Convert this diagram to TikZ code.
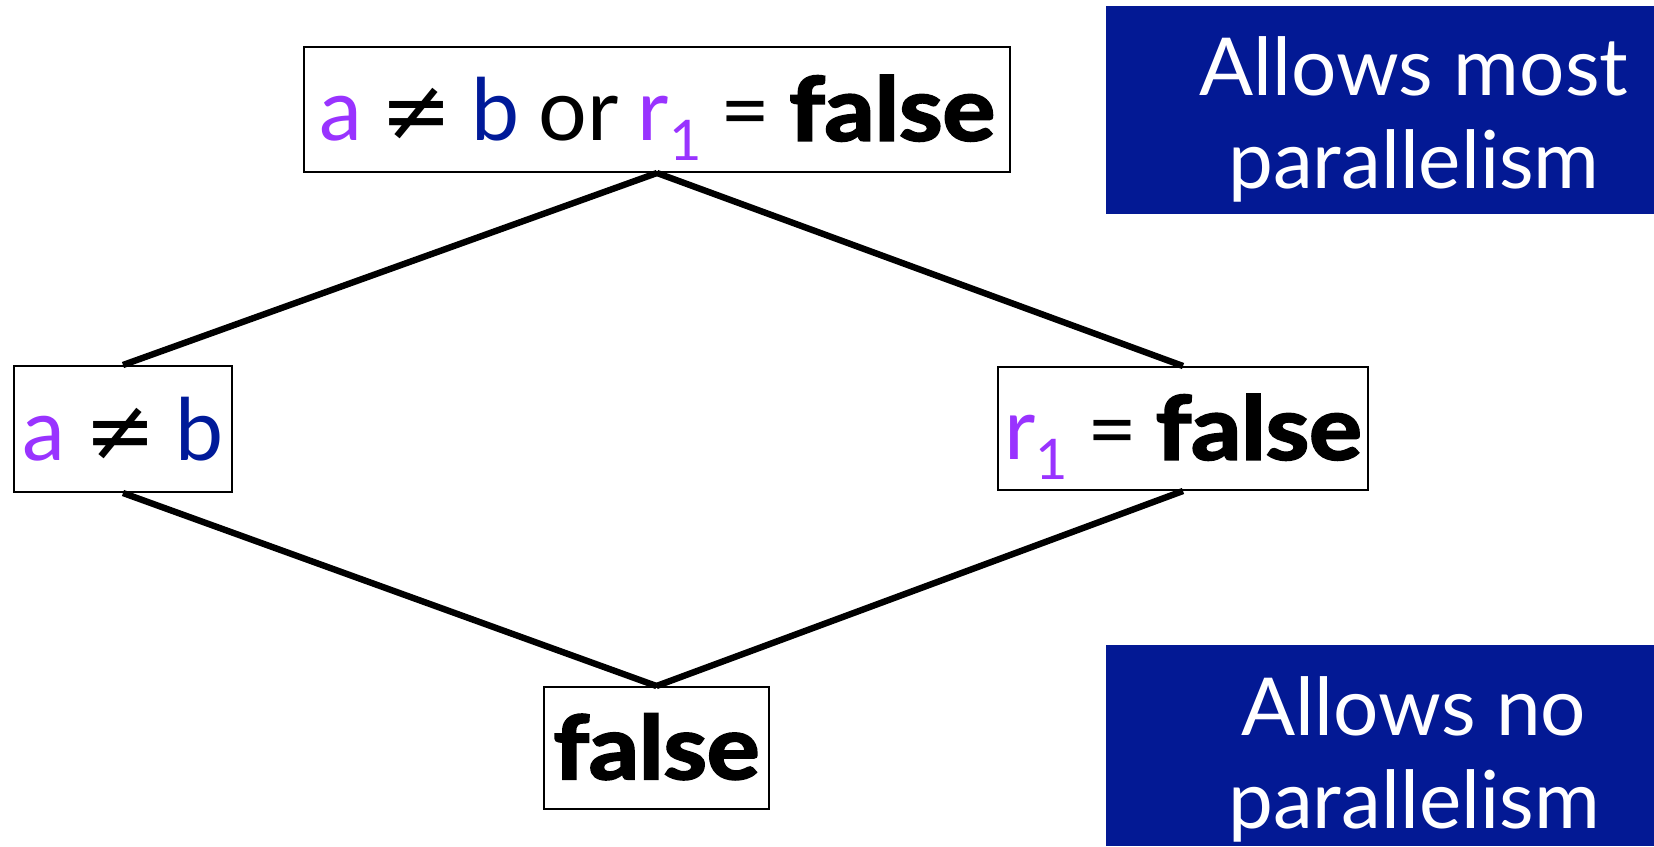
\documentclass[tikz,border=0pt]{standalone}
\usepackage{fontspec}
\setmainfont{Lato}[BoldFeatures={FakeBold=2.5}]
\newfontfamily\symfont{DejaVu Sans}
\definecolor{navy}{RGB}{3,25,148}
\definecolor{purp}{RGB}{153,51,255}
\definecolor{bblue}{RGB}{0,26,153}
\newcommand\subone{\raisebox{-0.45ex}{\fontsize{28}{28}\selectfont 1}}
\newcommand\nequal{{\symfont ≠}}
\newcommand\bfalse{\scalebox{1.12}[1]{\fontsize{44}{46}\selectfont\bfseries false}}
\newcommand\condfont{\fontsize{43}{46}\selectfont\spaceskip=0.22em plus 0.05em\relax}
\begin{document}
\begin{tikzpicture}[x=0.5pt,y=-0.5pt,
  cond/.style={draw=black, line width=1pt, inner sep=0pt, text height=36pt, text depth=5pt,
    font=\condfont},
  edge/.style={line width=3.2pt},
  bluebox/.style={fill=navy, inner sep=0pt, minimum width=274.5pt},
  bluetext/.style={text=white, align=center, font=\fontsize{40}{46.5}\selectfont, inner sep=0pt, anchor=base}]
\useasboundingbox (0,0) rectangle (1654,846);
\node[cond, minimum width=353pt, minimum height=62.5pt] (top) at (657,109.5)
  {{\color{purp}a} \nequal{} {\color{bblue}b} or {\color{purp}r\subone} = \bfalse};
\node[cond, minimum width=109pt, minimum height=63pt] (left) at (123,429)
  {{\color{purp}a} \nequal{} {\color{bblue}b}};
\node[cond, minimum width=185pt, minimum height=61.5pt] (right) at (1183,428.5)
  {{\color{purp}r\subone} = \bfalse};
\node[cond, minimum width=112.5pt, minimum height=61pt] (bottom) at (656.5,748)
  {\bfalse};
\draw[edge] (top.south) -- (left.north);
\draw[edge] (top.south) -- (right.north);
\draw[edge] (left.south) -- (bottom.north);
\draw[edge] (right.south) -- (bottom.north);
\node[bluebox, minimum height=104pt] (most) at (1380,110) {};
\node[bluetext] (mosttext) at (1414,188) {Allows most\\parallelism};
\node[bluebox, minimum height=100.5pt] (none) at (1380,745.5) {};
\node[bluetext] (nonetext) at (1414,828) {Allows no\\parallelism};
\end{tikzpicture}
\end{document}
